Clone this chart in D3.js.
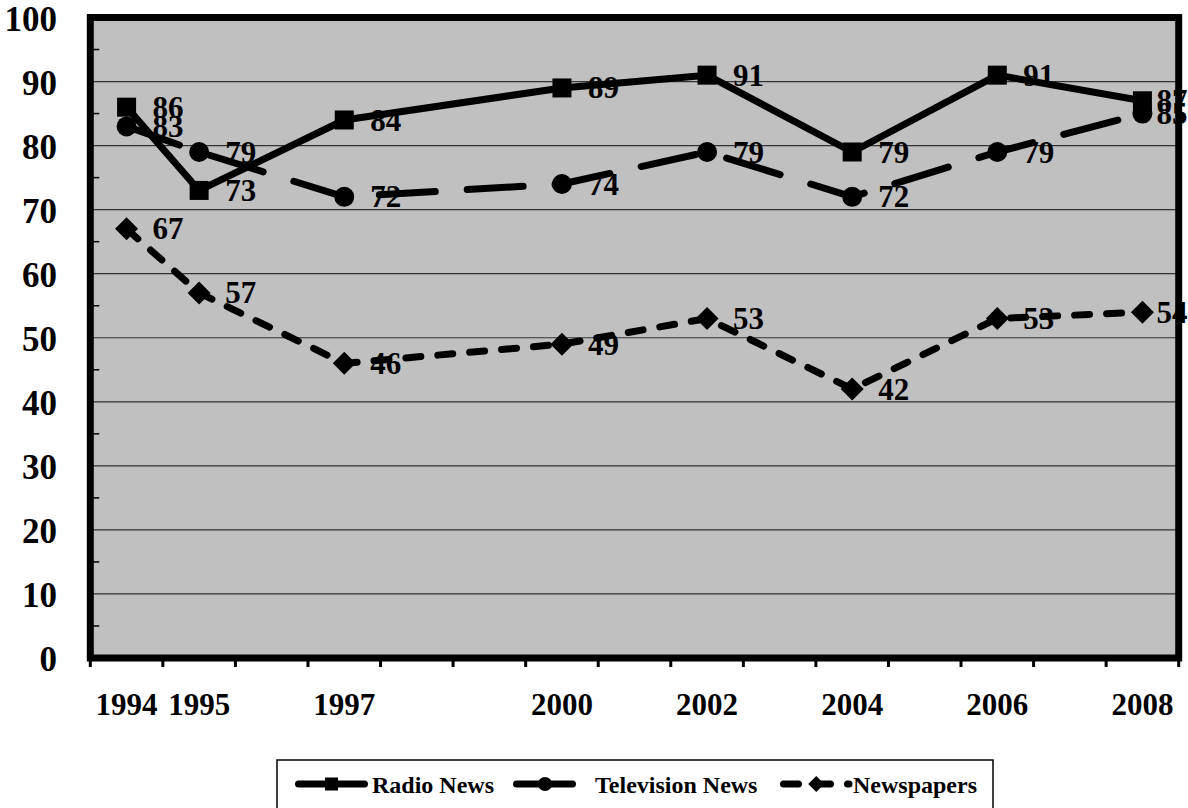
<!DOCTYPE html>
<html>
<head>
<meta charset="utf-8">
<script src="https://cdn.jsdelivr.net/npm/d3@7"></script>
<style>
  html, body { margin: 0; padding: 0; background: #fff; }
  svg { display: block; }
  text { font-family: "Liberation Serif", "Times New Roman", serif; font-weight: bold; fill: #000; }
</style>
</head>
<body>
<svg id="chart" width="1188" height="808"></svg>
<script>
// Survey years shown on the axis
const years = [1994, 1995, 1997, 2000, 2002, 2004, 2006, 2008];

// Percentages per source
const radioNews = [86, 73, 84, 89, 91, 79, 91, 87];
const televisionNews = [83, 79, 72, 74, 79, 72, 79, 85];
const newspapers = [67, 57, 46, 49, 53, 42, 53, 54];

const seriesNames = ["Radio News", "Television News", "Newspapers"];

// Y-axis labels and grid
const yTicks = [0, 10, 20, 30, 40, 50, 60, 70, 80, 90, 100];
const yMinorTicks = [5, 15, 25, 35, 45, 55, 65, 75, 85, 95];
const yearSlots = d3.range(1993.5, 2009, 1); // boundaries of each one-year slot

const width = 1188;
const svg = d3.select("#chart");

const plot = { left: 90.3, right: 1178.7, top: 17.5, bottom: 658 };

const x = d3.scaleLinear().domain([1993.5, 2008.5]).range([plot.left, plot.right]);
const y = d3.scaleLinear().domain([0, 100]).range([plot.bottom, plot.top]);

// Plot background
svg.append("rect")
  .attr("x", plot.left).attr("y", plot.top)
  .attr("width", plot.right - plot.left).attr("height", plot.bottom - plot.top)
  .attr("fill", "#c0c0c0");

// Horizontal gridlines
svg.append("g").selectAll("line")
  .data(yTicks.filter(v => v > 0 && v < 100))
  .join("line")
  .attr("x1", plot.left).attr("x2", plot.right)
  .attr("y1", d => y(d)).attr("y2", d => y(d))
  .attr("stroke", "#333").attr("stroke-width", 1.2);

// Minor ticks on the inside of the value axis
svg.append("g").selectAll("line")
  .data(yMinorTicks)
  .join("line")
  .attr("x1", plot.left).attr("x2", plot.left + 9)
  .attr("y1", d => y(d)).attr("y2", d => y(d))
  .attr("stroke", "#000").attr("stroke-width", 1.5);

const series = [
  { name: seriesNames[0], values: radioNews, dash: null, marker: "square" },
  { name: seriesNames[1], values: televisionNews, dash: "56,32", marker: "circle" },
  { name: seriesNames[2], values: newspapers, dash: "15,17", marker: "diamond" }
];

const lineGen = d3.line().x(d => x(d.year)).y(d => y(d.value));

function drawMarker(g, type, cx, cy, size) {
  if (type === "square") {
    g.append("rect")
      .attr("x", cx - size / 2).attr("y", cy - size / 2)
      .attr("width", size).attr("height", size)
      .attr("fill", "#000");
  } else if (type === "circle") {
    g.append("circle")
      .attr("cx", cx).attr("cy", cy).attr("r", size / 2)
      .attr("fill", "#000");
  } else {
    const h = size / 2;
    g.append("path")
      .attr("d", `M${cx},${cy - h}L${cx + h},${cy}L${cx},${cy + h}L${cx - h},${cy}Z`)
      .attr("fill", "#000");
  }
}

const markerSize = { square: 19, circle: 20, diamond: 23 };

series.forEach(s => {
  const pts = years.map((yr, i) => ({ year: yr, value: s.values[i] }));
  const g = svg.append("g");
  g.append("path")
    .datum(pts)
    .attr("d", lineGen)
    .attr("fill", "none")
    .attr("stroke", "#000")
    .attr("stroke-width", 7)
    .attr("stroke-linejoin", "round")
    .attr("stroke-linecap", "round")
    .attr("stroke-dasharray", s.dash);
  pts.forEach(p => drawMarker(g, s.marker, x(p.year), y(p.value), markerSize[s.marker]));
});

// Value labels beside each point, kept inside the chart's right edge
series.forEach(s => {
  svg.append("g").selectAll("text")
    .data(years.map((yr, i) => ({ year: yr, value: s.values[i] })))
    .join("text")
    .attr("y", d => y(d.value))
    .attr("dy", "0.34em")
    .attr("font-size", 31)
    .text(d => d.value)
    .attr("x", function (d) {
      const w = this.getComputedTextLength();
      return Math.min(x(d.year) + 26, width - w - 0.5);
    });
});

// Plot frame
svg.append("rect")
  .attr("x", plot.left).attr("y", plot.top)
  .attr("width", plot.right - plot.left).attr("height", plot.bottom - plot.top)
  .attr("fill", "none").attr("stroke", "#000").attr("stroke-width", 7);

// Category tick marks below the axis
svg.append("g").selectAll("line")
  .data(yearSlots)
  .join("line")
  .attr("x1", d => x(d)).attr("x2", d => x(d))
  .attr("y1", plot.bottom).attr("y2", plot.bottom + 9)
  .attr("stroke", "#000").attr("stroke-width", 3);

// Year labels
svg.append("g").selectAll("text")
  .data(years)
  .join("text")
  .attr("x", d => x(d))
  .attr("y", 715)
  .attr("text-anchor", "middle")
  .attr("font-size", 31)
  .text(d => d);

// Value-axis labels
svg.append("g").selectAll("text")
  .data(yTicks)
  .join("text")
  .attr("x", 57)
  .attr("y", d => y(d) + 13)
  .attr("text-anchor", "end")
  .attr("font-size", 35)
  .text(d => d);

// Legend
const legend = svg.append("g");
legend.append("rect")
  .attr("x", 277).attr("y", 760)
  .attr("width", 716).attr("height", 70)
  .attr("fill", "#fff").attr("stroke", "#000").attr("stroke-width", 1.5);

const legendItems = [
  { s: series[0], x0: 298.5, x1: 364.5, text: 372 },
  { s: series[1], x0: 516.5, x1: 573.5, text: 595 },
  { s: series[2], x0: 783.5, x1: 849, text: 853 }
];
const legendY = 784;
const legendMarker = { square: 13, circle: 14, diamond: 16 };
legendItems.forEach(item => {
  legend.append("line")
    .attr("x1", item.x0).attr("x2", item.x1)
    .attr("y1", legendY).attr("y2", legendY)
    .attr("stroke", "#000").attr("stroke-width", 7)
    .attr("stroke-linecap", "round")
    .attr("stroke-dasharray", item.s.dash);
  drawMarker(legend, item.s.marker, (item.x0 + item.x1) / 2, legendY, legendMarker[item.s.marker]);
  legend.append("text")
    .attr("x", item.text).attr("y", legendY + 8.5)
    .attr("font-size", 24)
    .text(item.s.name);
});
</script>
</body>
</html>
